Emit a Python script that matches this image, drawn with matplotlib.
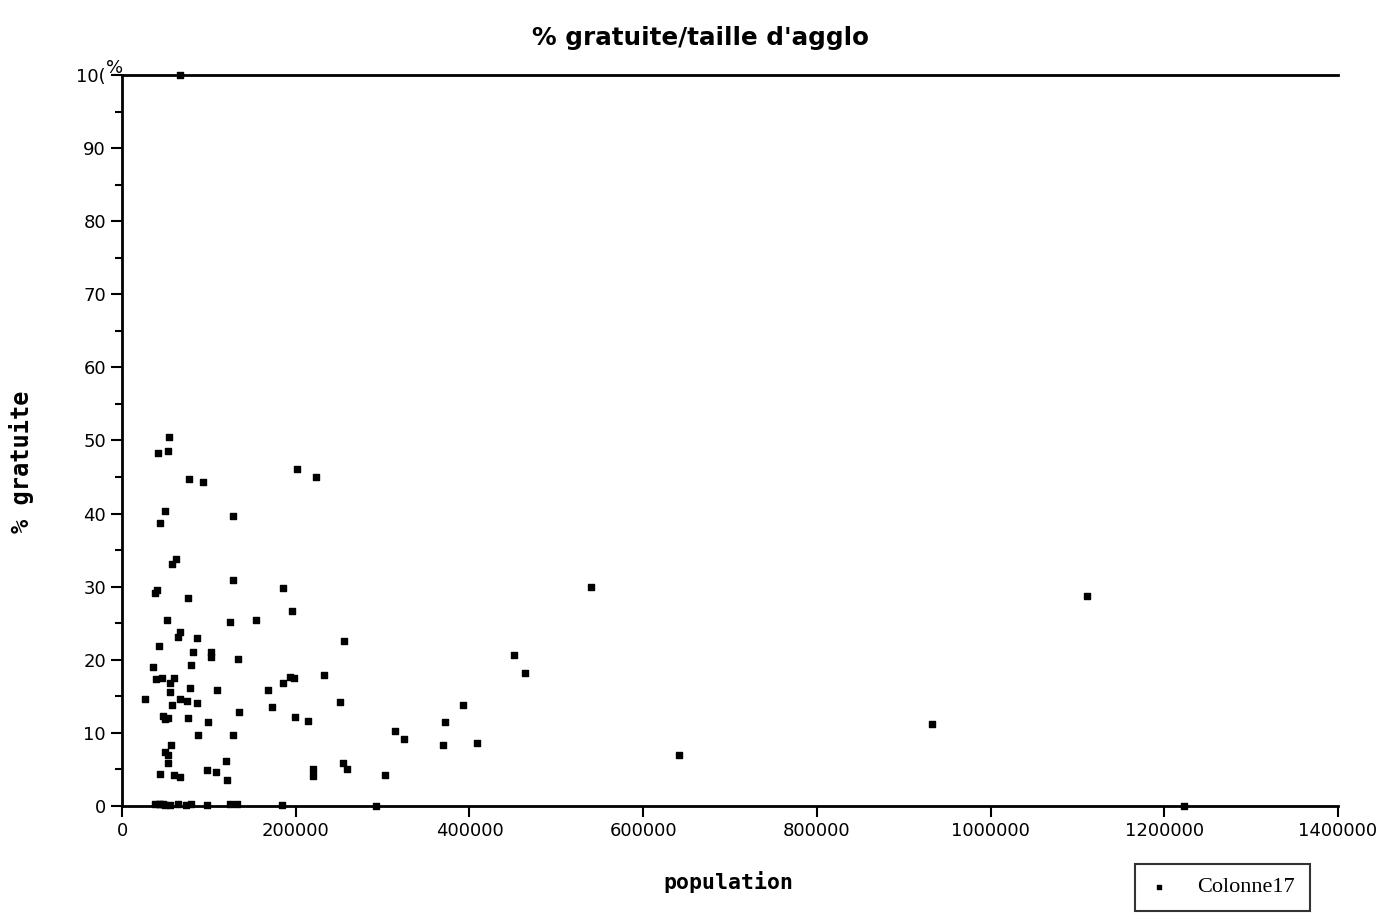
import matplotlib
matplotlib.use("Agg")
import matplotlib.pyplot as plt
from matplotlib.ticker import MultipleLocator

# population vs % gratuite
population = [
    67000, 54000, 53000, 41000, 77000, 93000, 201000, 223000, 50000, 44000,
    128000, 62000, 58000, 40000, 38000, 128000, 185000, 540000, 1111000, 76000,
    52000, 124000, 154000, 196000, 67000, 64000, 86000, 43000, 102000, 102000,
    82000, 256000, 451000, 133000, 36000, 79000, 39000, 46000, 60000, 55000,
    193000, 198000, 185000, 233000, 464000, 168000, 78000, 55000, 109000, 173000,
    86000, 67000, 75000, 26000, 58000, 393000, 135000, 47000, 53000, 76000,
    251000, 50000, 99000, 214000, 199000, 372000, 933000, 314000, 87000, 128000,
    325000, 56000, 370000, 409000, 50000, 53000, 53000, 120000, 641000, 254000,
    259000, 44000, 60000, 67000, 98000, 108000, 121000, 220000, 220000, 303000,
    38000, 44000, 47000, 55000, 64000, 74000, 79000, 98000, 124000, 132000,
    184000, 292000, 1223000, 42000, 50000,
]
gratuite = [
    100.0, 50.5, 48.6, 48.3, 44.7, 44.3, 46.1, 45.0, 40.4, 38.7,
    39.7, 33.8, 33.1, 29.5, 29.1, 30.9, 29.8, 30.0, 28.7, 28.5,
    25.4, 25.2, 25.4, 26.7, 23.8, 23.1, 23.0, 21.9, 21.1, 20.4,
    21.1, 22.6, 20.7, 20.1, 19.0, 19.3, 17.4, 17.5, 17.5, 16.8,
    17.6, 17.5, 16.8, 17.9, 18.2, 15.9, 16.1, 15.6, 15.9, 13.5,
    14.1, 14.6, 14.4, 14.6, 13.8, 13.8, 12.9, 12.3, 12.0, 12.0,
    14.2, 11.9, 11.5, 11.6, 12.2, 11.5, 11.2, 10.3, 9.7, 9.7,
    9.2, 8.3, 8.3, 8.6, 7.4, 7.0, 5.9, 6.2, 7.0, 5.9,
    5.1, 4.4, 4.2, 4.0, 4.9, 4.7, 3.6, 5.1, 4.1, 4.2,
    0.3, 0.3, 0.3, 0.2, 0.3, 0.2, 0.3, 0.2, 0.3, 0.3,
    0.2, 0.0, 0.0, 0.3, 0.2,
]
xticks = list(range(0, 1400001, 200000))
yticks = list(range(0, 101, 10))

fig = plt.figure(figsize=(13.9, 9.22), dpi=100)
ax = fig.add_axes([0.0878, 0.1258, 0.8748, 0.7929])

ax.scatter(population, gratuite, marker="s", s=24, color="black", zorder=3,
           label="Colonne17", clip_on=False)

ax.set_xlim(0, 1400000)
ax.set_ylim(0, 100)
ax.yaxis.set_minor_locator(MultipleLocator(5))

for s in ["left", "bottom", "top"]:
    ax.spines[s].set_linewidth(2)
ax.spines["right"].set_visible(False)

tick_font = ["DejaVu Sans"]
ax.tick_params(axis="both", which="major", direction="out", length=8, width=1.5,
               labelsize=13)
ax.tick_params(axis="y", which="minor", direction="out", length=5, width=1.5)
ax.set_xticks(xticks)
ax.set_xticklabels([str(v) for v in xticks], family=tick_font)
ylabels = [str(v) for v in yticks]
ylabels[-1] = "10("
ax.set_yticks(yticks)
ax.set_yticklabels(ylabels, family=tick_font)
fig.text(115 / 1390, 1 - 68 / 922, "%", ha="center", va="center",
         fontsize=13, family=tick_font)

fig.text(700 / 1390, 1 - 38 / 922, "% gratuite/taille d'agglo", ha="center",
         va="center", fontsize=17.7, fontweight="bold", family="DejaVu Sans")
fig.text(728 / 1390, 1 - 882 / 922, "population", ha="center", va="center",
         fontsize=15.5, fontweight="bold", family="DejaVu Sans Mono")
fig.text(22 / 1390, 1 - 462 / 922, "% gratuite", ha="center", va="center",
         rotation=90, fontsize=17, fontweight="bold", family="DejaVu Sans Mono")

leg = ax.legend(loc="center left", bbox_to_anchor=(0.833, -0.111, 0.144, 0),
                mode="expand", frameon=True, fancybox=False, markerscale=0.6,
                prop={"family": ["Liberation Serif", "DejaVu Serif"], "size": 16},
                handlelength=1.0, handletextpad=1.2, borderpad=0.6,
                borderaxespad=0)
leg.get_frame().set_edgecolor("black")
leg.get_frame().set_linewidth(1.5)

fig.savefig("out.png", dpi=100)
